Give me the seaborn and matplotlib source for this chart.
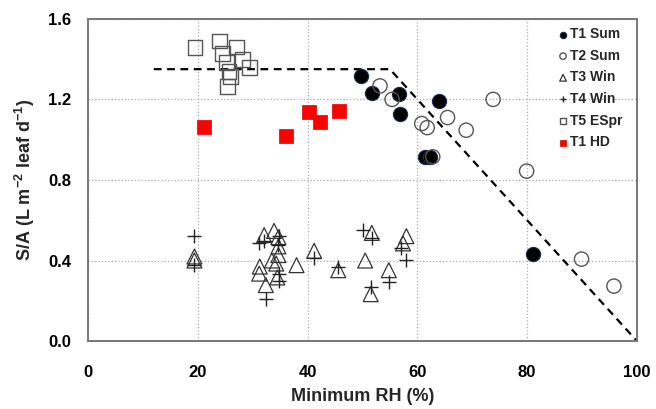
import numpy as np
import matplotlib
matplotlib.use('Agg')
import matplotlib.pyplot as plt
import pandas as pd
import seaborn as sns
from matplotlib.ticker import MultipleLocator

# T1 Sum (filled circles)
t1_sum_x = [49.8, 51.7, 56.7, 56.8, 63.9, 61.4, 62.3, 81.1]
t1_sum_y = [1.318, 1.231, 1.227, 1.127, 1.19, 0.915, 0.915, 0.432]
# T2 Sum (open circles)
t2_sum_x = [53.2, 55.4, 60.8, 61.8, 65.5, 68.9, 73.8, 62.8, 79.9, 89.9, 95.8]
t2_sum_y = [1.267, 1.20, 1.08, 1.06, 1.11, 1.047, 1.20, 0.915, 0.844, 0.407, 0.273]
# T3 Win (open triangles)
t3_win_x = [19.4, 19.4, 32.1, 33.9, 34.7, 34.7, 34.7, 33.5, 34.3, 31.3, 31.2, 32.4, 34.5, 38.0,
            41.2, 45.6, 50.5, 51.7, 51.5, 54.8, 58.0, 57.4]
t3_win_y = [0.42, 0.40, 0.526, 0.547, 0.516, 0.47, 0.427, 0.40, 0.385, 0.37, 0.335, 0.278, 0.316, 0.377,
            0.448, 0.352, 0.40, 0.537, 0.233, 0.352, 0.521, 0.485]
# T4 Win (crosses)
t4_win_x = [19.4, 19.4, 31.2, 32.0, 34.8, 34.7, 34.8, 34.8, 32.4, 41.2, 45.6, 50.1, 51.7, 51.5,
            54.8, 57.1, 57.9]
t4_win_y = [0.52, 0.38, 0.488, 0.495, 0.52, 0.477, 0.335, 0.30, 0.207, 0.415, 0.369, 0.554, 0.51, 0.27,
            0.294, 0.46, 0.405]
# T5 ESpr (open squares)
t5_espr_x = [19.5, 23.9, 27.1, 24.5, 28.2, 29.5, 25.7, 25.9, 25.3, 25.5]
t5_espr_y = [1.457, 1.49, 1.46, 1.43, 1.40, 1.36, 1.34, 1.315, 1.385, 1.265]
# T1 HD (red squares)
t1_hd_x = [21.1, 36.1, 40.3, 42.3, 45.7]
t1_hd_y = [1.064, 1.017, 1.136, 1.087, 1.141]

# boundary line
line_x = [12, 55, 100]
line_y = [1.35, 1.35, 0.0]

sns.set_style('white')
plt.rcParams['font.family'] = ['Liberation Sans', 'DejaVu Sans']
plt.rcParams['font.weight'] = 'bold'
plt.rcParams['mathtext.fontset'] = 'custom'
plt.rcParams['mathtext.rm'] = 'Liberation Sans:bold'
plt.rcParams['mathtext.bf'] = 'Liberation Sans:bold'
plt.rcParams['mathtext.default'] = 'bf'

fig, ax = plt.subplots(figsize=(6.56, 4.09), dpi=100)
fig.subplots_adjust(left=0.134, right=0.971, bottom=0.166, top=0.954)

ax.plot(line_x, line_y, color='black', linestyle=(0, (3.5, 2.5)), linewidth=1.6, zorder=2)

sns.scatterplot(x=t1_sum_x, y=t1_sum_y, marker='o', s=105, color='black', edgecolor='#1a2a50',
                linewidth=0.8, label='T1 Sum', ax=ax, zorder=3)
sns.scatterplot(x=t2_sum_x, y=t2_sum_y, marker='o', s=105, facecolor='none', edgecolor='#555555',
                linewidth=1.0, label='T2 Sum', ax=ax, zorder=3)
sns.scatterplot(x=t3_win_x, y=t3_win_y, marker='^', s=115, facecolor='none', edgecolor='#333333',
                linewidth=0.9, label='T3 Win', ax=ax, zorder=3)
sns.scatterplot(x=t4_win_x, y=t4_win_y, marker='+', s=110, color='#222222',
                linewidth=1.0, label='T4 Win', ax=ax, zorder=3)
sns.scatterplot(x=t5_espr_x, y=t5_espr_y, marker='s', s=115, facecolor='none', edgecolor='#555555',
                linewidth=1.0, label='T5 ESpr', ax=ax, zorder=3)
sns.scatterplot(x=t1_hd_x, y=t1_hd_y, marker='s', s=95, color='red', edgecolor='#dd0000',
                linewidth=0.5, label='T1 HD', ax=ax, zorder=3)

ax.set_xlim(0, 100)
ax.set_ylim(0, 1.6)
ax.xaxis.set_major_locator(MultipleLocator(20))
ax.xaxis.set_minor_locator(MultipleLocator(4))
ax.yaxis.set_major_locator(MultipleLocator(0.4))
ax.yaxis.set_minor_locator(MultipleLocator(0.08))
ax.set_yticks(np.arange(0, 1.61, 0.4))
ax.set_yticklabels([f'{v:.1f}' for v in np.arange(0, 1.61, 0.4)])

ax.grid(True, which='major', linestyle=':', color='#aaaaaa', linewidth=0.9)
ax.tick_params(axis='x', which='major', direction='inout', length=10, width=1.2, labelsize=12, pad=12)
ax.tick_params(axis='y', which='major', direction='out', length=6, width=1.2, labelsize=12, pad=6)
ax.tick_params(which='minor', direction='in', length=5, width=1.0)
ax.tick_params(axis='both', which='both', colors='#555555', labelcolor='black')
for lab in ax.get_xticklabels() + ax.get_yticklabels():
    lab.set_fontweight('bold')

for side in ['left', 'bottom', 'top', 'right']:
    ax.spines[side].set_color('#777777')
    ax.spines[side].set_linewidth(1.4)

ax.set_xlabel('Minimum RH (%)', fontsize=13, fontweight='bold', labelpad=6)
ax.set_ylabel(r'S/A (L m$^{-2}$ leaf d$^{-1}$)', fontsize=13, fontweight='bold', labelpad=8)

leg = ax.legend(loc='upper left', bbox_to_anchor=(0.84, 1.0), frameon=False, markerscale=0.45,
                handletextpad=0.1, handlelength=0.8, labelspacing=0.55, borderaxespad=0.2,
                prop={'weight': 'bold', 'size': 10})
leg.set_zorder(5)

fig.savefig('out.png', dpi=100)
